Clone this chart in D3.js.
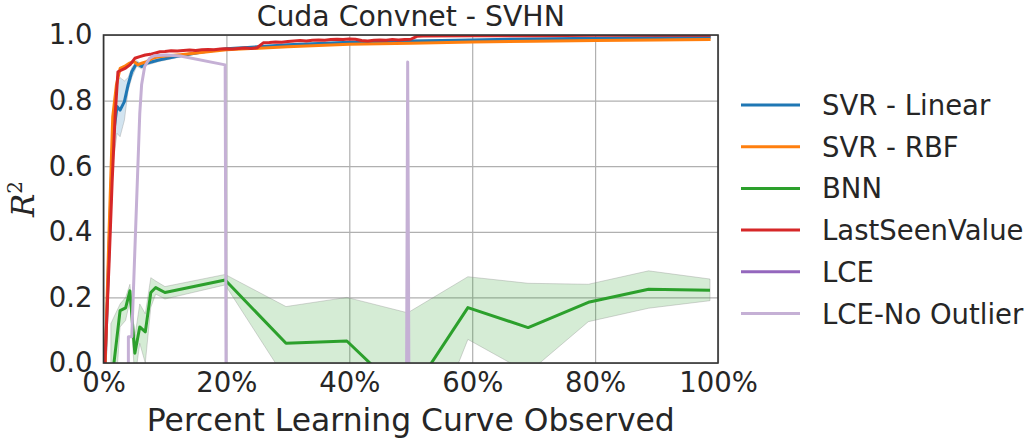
<!DOCTYPE html>
<html>
<head>
<meta charset="utf-8">
<script src="https://cdn.jsdelivr.net/npm/d3@7/dist/d3.min.js"></script>
<style>
  html, body { margin: 0; padding: 0; background: #fff; }
  svg { display: block; font-family: "DejaVu Sans", sans-serif; }
</style>
</head>
<body>
<svg id="chart" width="1034" height="440"></svg>
<script>
// Fraction of the learning curve observed (x) and R^2 of each predictor (y)

const svrLinearX = [0.002, 0.009, 0.015, 0.022, 0.027, 0.034, 0.040, 0.046, 0.054, 0.062, 0.070, 0.090, 0.120, 0.160, 0.200, 0.300, 0.400, 0.500, 0.600, 0.700, 0.800, 0.900, 0.988];
const svrLinear  = [-0.05, 0.35, 0.68, 0.782, 0.771, 0.797, 0.848, 0.888, 0.914, 0.904, 0.914, 0.924, 0.935, 0.948, 0.958, 0.970, 0.978, 0.982, 0.985, 0.988, 0.990, 0.992, 0.993];
const svrLinearLo = [-0.10, 0.30, 0.60, 0.700, 0.690, 0.740, 0.830, 0.870, 0.905, 0.897, 0.908, 0.919, 0.931, 0.945, 0.955, 0.968, 0.976, 0.980, 0.983, 0.986, 0.988, 0.990, 0.991];
const svrLinearHi = [0.00, 0.40, 0.76, 0.860, 0.870, 0.860, 0.870, 0.900, 0.922, 0.911, 0.920, 0.929, 0.939, 0.951, 0.961, 0.972, 0.980, 0.984, 0.987, 0.990, 0.992, 0.994, 0.995];

const svrRbfX = [0.002, 0.009, 0.015, 0.021, 0.027, 0.034, 0.042, 0.050, 0.056, 0.062, 0.070, 0.080, 0.090, 0.100, 0.125, 0.200, 0.300, 0.400, 0.500, 0.600, 0.700, 0.800, 0.900, 0.988];
const svrRbf  = [-0.05, 0.40, 0.75, 0.848, 0.898, 0.904, 0.914, 0.919, 0.909, 0.914, 0.919, 0.929, 0.934, 0.936, 0.940, 0.955, 0.964, 0.972, 0.975, 0.979, 0.981, 0.983, 0.985, 0.986];

const bnnX  = [0.012, 0.027, 0.036, 0.043, 0.051, 0.059, 0.068, 0.077, 0.085, 0.100, 0.198, 0.297, 0.396, 0.495, 0.593, 0.691, 0.789, 0.887, 0.987];
const bnn   = [-0.08, 0.160, 0.168, 0.220, 0.030, 0.110, 0.095, 0.215, 0.230, 0.215, 0.253, 0.060, 0.067, -0.110, 0.169, 0.108, 0.185, 0.225, 0.222];
const bnnLo = [-0.30, 0.110, 0.130, 0.190, -0.050, 0.060, 0.000, 0.170, 0.210, 0.195, 0.238, -0.050, -0.200, -0.390, 0.072, -0.030, 0.126, 0.167, 0.190];
const bnnHi = [0.12, 0.180, 0.200, 0.240, 0.080, 0.180, 0.150, 0.260, 0.250, 0.233, 0.270, 0.172, 0.200, 0.153, 0.263, 0.243, 0.240, 0.281, 0.256];

const lastSeenX = [0.000, 0.009, 0.014, 0.019, 0.0235, 0.035, 0.043, 0.051, 0.059, 0.068, 0.076, 0.092,
  0.10, 0.11, 0.12, 0.13, 0.14, 0.15, 0.16, 0.17, 0.18, 0.19, 0.20, 0.21, 0.22, 0.23, 0.24, 0.25,
  0.26, 0.27, 0.28, 0.29, 0.30, 0.31, 0.32, 0.33, 0.34, 0.35, 0.36, 0.37, 0.38, 0.39, 0.40, 0.41,
  0.42, 0.43, 0.44, 0.45, 0.46, 0.47, 0.48, 0.49, 0.50, 0.51, 0.52, 0.60, 0.70, 0.80, 0.90, 0.988];
const lastSeen = [-0.10, 0.30, 0.55, 0.757, 0.888, 0.898, 0.909, 0.929, 0.934, 0.939, 0.941, 0.949,
  0.950, 0.952, 0.951, 0.953, 0.954, 0.953, 0.955, 0.956, 0.955, 0.957, 0.958, 0.957, 0.959, 0.960, 0.959, 0.961,
  0.976, 0.977, 0.979, 0.978, 0.980, 0.982, 0.983, 0.982, 0.984, 0.985, 0.984, 0.986, 0.987, 0.986, 0.988, 0.987,
  0.983, 0.982, 0.984, 0.985, 0.984, 0.986, 0.985, 0.986, 0.987, 0.996, 0.997, 0.998, 0.998, 0.999, 0.999, 0.999];

const lceX = [0.034, 0.0405, 0.046, 0.059, 0.062, 0.067, 0.075, 0.083, 0.102, 0.125, 0.198, 0.297, 0.396, 0.495, 0.593, 0.691, 0.789, 0.887, 0.987];
const lce  = [-412.6, -388.1, -301.7, -257.4, -240.9, -233.2, -219.8, -205.3, -187.6, -176.2, -140.5, -122.8, -96.4, -85.1, -79.3, -70.6, -64.2, -58.7, -52.9];
const lceNoOutlier = [-38.5, 0.080, 0.080, 0.760, 0.848, 0.904, 0.929, 0.937, 0.939, 0.936, 0.909, -64.2, -51.7, 0.918, -47.3, -29.8, -33.6, -41.1, -26.4];

const xTicks = [0, 0.2, 0.4, 0.6, 0.8, 1.0];
const yTicks = [0, 0.2, 0.4, 0.6, 0.8, 1.0];

const seriesNames = ["SVR - Linear", "SVR - RBF", "BNN", "LastSeenValue", "LCE", "LCE-No Outlier"];
const seriesColors = ["#1f77b4", "#ff7f0e", "#2ca02c", "#d62728", "#9467bd", "#c5b0d5"];

const titleText = "Cuda Convnet - SVHN";
const xLabelText = "Percent Learning Curve Observed";

// ---- layout ----
const svg = d3.select("#chart");
const margin = { left: 103.5, right: 316, top: 35, bottom: 77 };
const W = 1034, H = 440;
const x = d3.scaleLinear().domain([0, 1]).range([margin.left, W - margin.right]);
const y = d3.scaleLinear().domain([0, 1]).range([H - margin.bottom, margin.top]);
const textColor = "#262626";

svg.append("defs").append("clipPath").attr("id", "plotClip")
  .append("rect")
  .attr("x", x(0)).attr("y", y(1))
  .attr("width", x(1) - x(0)).attr("height", y(0) - y(1));

// grid
const gridX = svg.append("g").attr("transform", `translate(0,${y(0)})`)
  .call(d3.axisBottom(x).tickValues(xTicks).tickSize(-(y(0) - y(1))).tickFormat(""));
const gridY = svg.append("g").attr("transform", `translate(${x(0)},0)`)
  .call(d3.axisLeft(y).tickValues(yTicks).tickSize(-(x(1) - x(0))).tickFormat(""));
[gridX, gridY].forEach(g => {
  g.select(".domain").remove();
  g.selectAll(".tick line").attr("stroke", "#b0b0b0").attr("stroke-width", 1.2);
});

const plot = svg.append("g").attr("clip-path", "url(#plotClip)");

const zip = (xs, ys) => xs.map((v, i) => [v, ys[i]]);
const line = d3.line().x(d => x(d[0])).y(d => y(d[1]));
const band = d3.area().x(d => x(d[0])).y0(d => y(d[1])).y1(d => y(d[2]));

function drawBand(xs, lo, hi, color) {
  plot.append("path")
    .datum(xs.map((v, i) => [v, lo[i], hi[i]]))
    .attr("d", band)
    .attr("fill", color).attr("fill-opacity", 0.2)
    .attr("stroke", "#8c8c8c").attr("stroke-opacity", 0.35).attr("stroke-width", 1);
}
function drawLine(xs, ys, color) {
  plot.append("path")
    .datum(zip(xs, ys))
    .attr("d", line)
    .attr("fill", "none")
    .attr("stroke", color).attr("stroke-width", 3)
    .attr("stroke-linejoin", "round").attr("stroke-linecap", "butt");
}

drawBand(svrLinearX, svrLinearLo, svrLinearHi, seriesColors[0]);
drawLine(svrLinearX, svrLinear, seriesColors[0]);
drawLine(svrRbfX, svrRbf, seriesColors[1]);
drawBand(bnnX, bnnLo, bnnHi, seriesColors[2]);
drawLine(bnnX, bnn, seriesColors[2]);
drawLine(lastSeenX, lastSeen, seriesColors[3]);
drawLine(lceX, lce, seriesColors[4]);
drawLine(lceX, lceNoOutlier, seriesColors[5]);

// frame
svg.append("rect")
  .attr("x", x(0)).attr("y", y(1))
  .attr("width", x(1) - x(0)).attr("height", y(0) - y(1))
  .attr("fill", "none").attr("stroke", "#333333").attr("stroke-width", 1.6);

// tick labels
const axX = svg.append("g").attr("transform", `translate(0,${y(0)})`)
  .call(d3.axisBottom(x).tickValues(xTicks).tickSize(0).tickPadding(9).tickFormat(d3.format(".0%")));
const axY = svg.append("g").attr("transform", `translate(${x(0)},0)`)
  .call(d3.axisLeft(y).tickValues(yTicks).tickSize(0).tickPadding(11).tickFormat(d3.format(".1f")));
[axX, axY].forEach(g => {
  g.select(".domain").remove();
  g.selectAll(".tick text")
    .attr("fill", textColor)
    .style("font-family", "DejaVu Sans")
    .style("font-size", "27.5px");
});

// title and axis labels
svg.append("text")
  .attr("x", (x(0) + x(1)) / 2).attr("y", 26)
  .attr("text-anchor", "middle").attr("fill", textColor)
  .style("font-size", "28.3px")
  .text(titleText);

svg.append("text")
  .attr("x", (x(0) + x(1)) / 2).attr("y", 431)
  .attr("text-anchor", "middle").attr("fill", textColor)
  .style("font-size", "31.4px")
  .text(xLabelText);

const yLab = svg.append("text")
  .attr("transform", `translate(34,${(y(0) + y(1)) / 2}) rotate(-90)`)
  .attr("text-anchor", "middle").attr("fill", textColor)
  .style("font-family", "DejaVu Serif");
yLab.append("tspan").style("font-style", "italic").style("font-size", "31px").text("R");
yLab.append("tspan").attr("dy", -12).style("font-size", "20px").text("2");

// legend
const legend = svg.append("g").attr("transform", "translate(741,105)");
seriesNames.forEach((name, i) => {
  const row = legend.append("g").attr("transform", `translate(0,${i * 41.7})`);
  row.append("line").attr("x1", 0).attr("x2", 59).attr("y1", 0).attr("y2", 0)
    .attr("stroke", seriesColors[i]).attr("stroke-width", 3);
  row.append("text").attr("x", 81).attr("y", 10)
    .attr("fill", textColor).style("font-size", "27.5px").text(name);
});
</script>
</body>
</html>
